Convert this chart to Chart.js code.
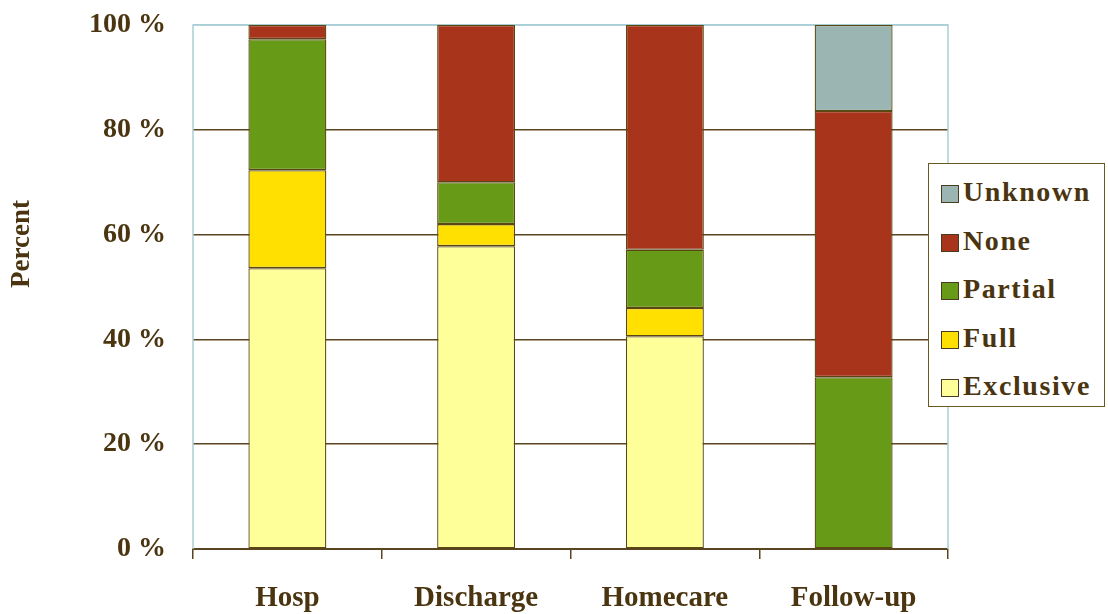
<!DOCTYPE html>
<html>
<head>
<meta charset="utf-8">
<script src="https://cdn.jsdelivr.net/npm/chart.js@4/dist/chart.umd.min.js"></script>
<style>
  html, body { margin: 0; padding: 0; background: #fff; }
  #wrap { position: relative; width: 1108px; height: 614px; }
  #legend {
    position: absolute; left: 928px; top: 163px; width: 177px; height: 244px;
    border: 1.5px solid #6b5a20; background: #fff; box-sizing: border-box;
    font-family: "Liberation Serif", "Times New Roman", serif; font-weight: bold;
    font-size: 28px; letter-spacing: 1.6px; color: #4a3510; padding-top: 12px;
  }
  .item { height: 48.5px; display: flex; align-items: flex-start; white-space: nowrap; }
  .sw { width: 16px; height: 16px; border: 1.5px solid #4a3a20; margin: 9px 4px 0 12px; flex: none; }
</style>
</head>
<body>
<div id="wrap">
  <canvas id="chart" width="1108" height="614"></canvas>
  <div id="legend"></div>
</div>
<script>
//------------------------ DATA ----------------------------
const categories = ["Hosp", "Discharge", "Homecare", "Follow-up"];
const exclusive = [53.6, 57.8, 40.6, 0];
const full = [18.7, 4.2, 5.4, 0];
const partial = [25.0, 8.0, 11.1, 32.8];
const none = [2.7, 30.0, 42.9, 50.8];
const unknown = [0, 0, 0, 16.4];
const yTicks = [0, 20, 40, 60, 80, 100];

const inkColor = "#4a3510";
const gridColor = "#5a4520";
const frameColor = "#a9cfd6";

const series = [
  { label: "Exclusive", data: exclusive, color: "#ffff99" },
  { label: "Full", data: full, color: "#ffe000" },
  { label: "Partial", data: partial, color: "#679a17" },
  { label: "None", data: none, color: "#a8341c" },
  { label: "Unknown", data: unknown, color: "#9bb6b2" },
];

const serif = "'Liberation Serif', 'Times New Roman', serif";

// light blue frame on left / top / right of plot area, plus the y title
const framePlugin = {
  id: "frame",
  beforeDatasetsDraw(chart) {
    const { ctx, chartArea: a } = chart;
    ctx.save();
    ctx.strokeStyle = frameColor;
    ctx.lineWidth = 1.5;
    ctx.beginPath();
    ctx.moveTo(a.left, a.bottom);
    ctx.lineTo(a.left, a.top);
    ctx.lineTo(a.right, a.top);
    ctx.lineTo(a.right, a.bottom);
    ctx.stroke();

    // "Percent" sits a bit above the middle in the original
    ctx.translate(22, 244);
    ctx.rotate(-Math.PI / 2);
    ctx.fillStyle = inkColor;
    ctx.font = "bold 27px " + serif;
    ctx.textAlign = "center";
    ctx.textBaseline = "middle";
    ctx.fillText("Percent", 0, 0);
    ctx.restore();
  },
};

const ctx = document.getElementById("chart").getContext("2d");
ctx.letterSpacing = "1px";

const myChart = new Chart(ctx, {
  type: "bar",
  data: {
    labels: categories,
    datasets: series.map((s) => ({
      label: s.label,
      data: s.data,
      backgroundColor: s.color,
      borderColor: "#5a4712",
      borderWidth: 1.3,
      borderSkipped: false,
      categoryPercentage: 1,
      barPercentage: 0.413,
    })),
  },
  options: {
    responsive: false,
    animation: false,
    layout: { padding: { top: 25, right: 160, left: 0, bottom: 0 } },
    plugins: {
      legend: { display: false },
      tooltip: { enabled: false },
    },
    scales: {
      x: {
        stacked: true,
        afterFit: (scale) => { scale.height = 65; },
        grid: {
          offset: true,
          drawOnChartArea: false,
          drawTicks: true,
          tickLength: 10,
          color: gridColor,
          lineWidth: 1.5,
        },
        border: { display: true, color: gridColor, width: 2 },
        ticks: {
          color: inkColor,
          padding: 22,
          font: { family: serif, weight: "bold", size: 29 },
        },
      },
      y: {
        stacked: true,
        min: 0,
        max: 100,
        afterFit: (scale) => {
          scale.width = 193;
          scale.paddingTop = 0;
          scale.paddingBottom = 0;
        },
        afterBuildTicks: (scale) => { scale.ticks = yTicks.map((v) => ({ value: v })); },
        grid: {
          drawTicks: false,
          color: (c) => (c.tick && c.tick.value === 100 ? frameColor : gridColor),
          lineWidth: 1.5,
        },
        border: { display: false },
        ticks: {
          color: inkColor,
          padding: 27,
          font: { family: serif, weight: "bold", size: 28 },
          callback: (v) => v + " %",
        },
      },
    },
  },
  plugins: [framePlugin],
});

// legend (reverse order, as in the original)
const legendEl = document.getElementById("legend");
series.slice().reverse().forEach((s) => {
  const item = document.createElement("div");
  item.className = "item";
  item.innerHTML = '<span class="sw" style="background:' + s.color + '"></span><span>' + s.label + "</span>";
  legendEl.appendChild(item);
});
</script>
</body>
</html>
